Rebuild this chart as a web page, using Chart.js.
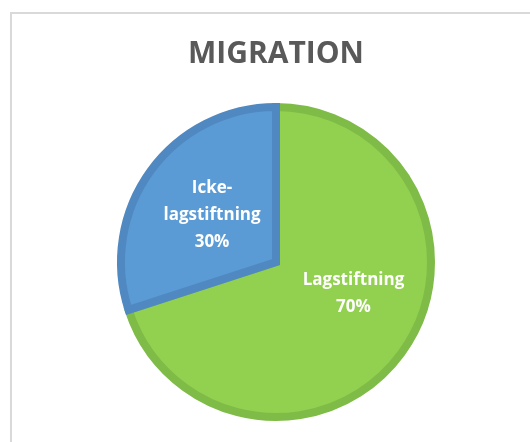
<!DOCTYPE html>
<html>
<head>
<meta charset="utf-8">
<script src="https://cdn.jsdelivr.net/npm/chart.js@4/dist/chart.umd.min.js"></script>
<style>
  html, body { margin: 0; padding: 0; background: #fff; }
  #wrap { position: relative; width: 530px; height: 442px; overflow: hidden; }
  #frame { position: absolute; left: 10px; top: 12px; width: 600px; height: 600px; border-left: 2px solid #d9d9d9; border-top: 2px solid #d9d9d9; }
  #c { position: absolute; left: 0; top: 0; }
</style>
</head>
<body>
<div id="wrap">
  <div id="frame"></div>
  <canvas id="c" width="530" height="442"></canvas>
</div>
<script>
/* MIGRATION pie: lagstiftning vs icke-lagstiftning */
const labels = ["Lagstiftning", "Icke-lagstiftning"];
const labelLines = [["Lagstiftning", "70%"], ["Icke-", "lagstiftning", "30%"]];
const values = [70, 30];
const fills = ["#92d050", "#5b9bd5"];
const borders = ["#7fbb47", "#5089c2"];

// white in-slice labels, placed along each slice's bisector
const sliceLabels = {
  id: "sliceLabels",
  afterDatasetsDraw(chart) {
    const ctx = chart.ctx;
    const arcs = chart.getDatasetMeta(0).data;
    ctx.save();
    ctx.fillStyle = "#fff";
    ctx.font = "bold 17px 'Open Sans', sans-serif";
    ctx.textAlign = "center";
    ctx.textBaseline = "middle";
    const tweak = [{ a: -0.24, f: 0.54 }, { a: 0, f: 0.51 }];
    arcs.forEach((arc, i) => {
      const p = arc.getProps(["x", "y", "startAngle", "endAngle", "outerRadius"], true);
      const mid = (p.startAngle + p.endAngle) / 2 + tweak[i].a;
      const cx = p.x + Math.cos(mid) * p.outerRadius * tweak[i].f;
      const cy = p.y + Math.sin(mid) * p.outerRadius * tweak[i].f;
      const lines = labelLines[i], lh = 27;
      lines.forEach((t, k) => ctx.fillText(t, cx, cy + (k - (lines.length - 1) / 2) * lh));
    });
    ctx.restore();
  }
};

new Chart(document.getElementById("c"), {
  type: "pie",
  data: { labels, datasets: [{ data: values, backgroundColor: fills, borderColor: borders, borderWidth: 8, borderJoinStyle: "miter" }] },
  options: {
    responsive: false, animation: false, radius: 155,
    layout: { padding: { top: 0, bottom: 20, left: 22, right: 0 } },
    plugins: {
      legend: { display: false }, tooltip: { enabled: false },
      title: { display: true, text: "MIGRATION", color: "#595959",
        font: { family: "'Open Sans', sans-serif", size: 30, weight: "bold" }, padding: { top: 36, bottom: 30 } }
    }
  },
  plugins: [sliceLabels]
});
</script>
</body>
</html>
